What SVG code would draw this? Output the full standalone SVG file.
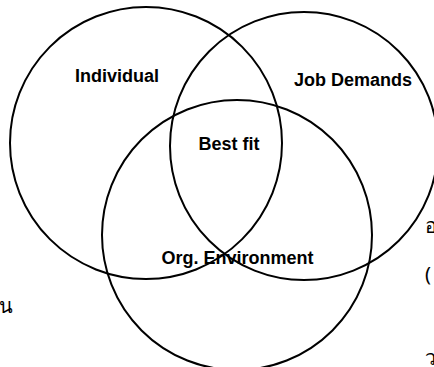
<svg xmlns="http://www.w3.org/2000/svg" width="434" height="367" viewBox="0 0 434 367">
<style>
.c{fill:none;stroke:#000;stroke-width:2}
.t{font-family:"Liberation Sans",Arial,sans-serif;font-weight:bold;font-size:18px;fill:#000;text-anchor:middle}
.th{font-family:"Noto Sans","DejaVu Sans",sans-serif;font-size:20px;fill:#000}
</style>
<rect width="434" height="367" fill="#fff"/>
<g id="individual"><circle class="c" cx="146" cy="143" r="136"/><text class="t" x="117" y="82">Individual</text></g>
<g id="job-demands"><circle class="c" cx="304" cy="146" r="134"/><text class="t" x="353" y="86">Job Demands</text></g>
<g id="org-environment"><circle class="c" cx="237" cy="235" r="135"/><text class="t" x="237.5" y="264">Org. Environment</text></g>
<g id="best-fit"><text class="t" x="229" y="150">Best fit</text></g>
<g id="connectors"></g>
<g id="margin-text">
<text class="th" x="-1" y="313">น</text>
<text class="th" x="425" y="233">อ</text>
<text class="th" x="425" y="281">(</text>
<text class="th" x="425" y="365">ว</text>
</g>
</svg>
